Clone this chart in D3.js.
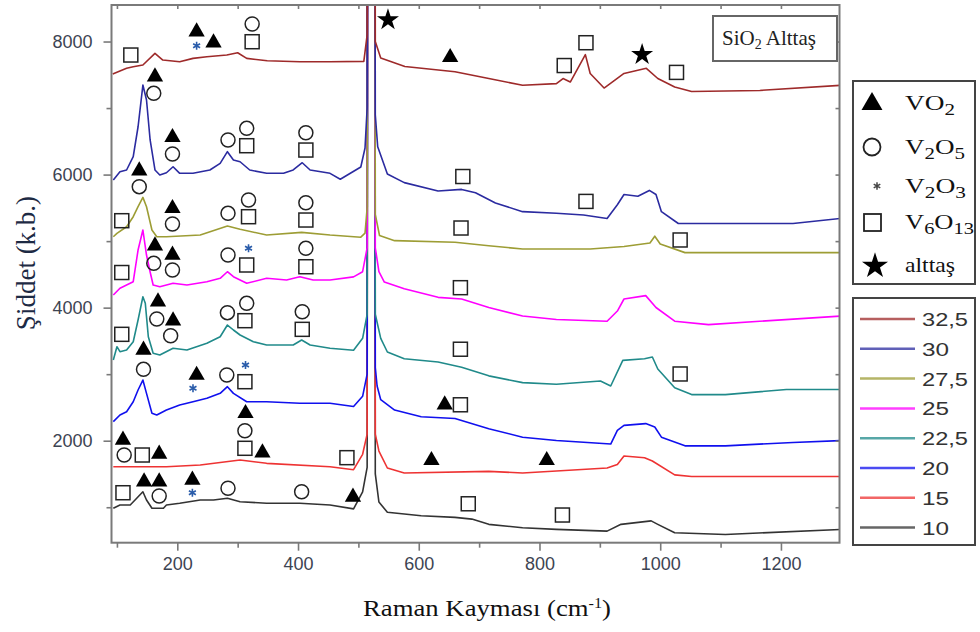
<!DOCTYPE html>
<html><head><meta charset="utf-8">
<script src="https://cdn.jsdelivr.net/npm/d3@7"></script>
<style>body{margin:0;background:#fff}</style></head>
<body><svg id="c" width="980" height="632"></svg>
<script>
// ---------- DATA ----------
const seriesNames = ["32,5","30","27,5","25","22,5","20","15","10"];
const seriesColors = ["#9e2a2a","#2b2ba0","#9d9d35","#ff00ff","#208a8a","#1010ee","#ee3333","#333333"];
const s325 = [[93,7511],[116,7597],[127,7621],[143,7647],[163,7823],[176,7722],[204,7696],[226,7747],[249,7771],[282,7797],[300,7832],[315,7747],[349,7711],[403,7696],[453,7696],[509,7701],[514.5,8100],[517,30000],[525,30000],[528,8000],[537,7752],[577,7624],[660,7546],[716,7444],[772,7342],[828,7367],[839,7444],[851,7391],[876,7803],[884,7520],[907,7301],[940,7520],[977,7597],[996,7444],[1024,7316],[1052,7248],[1165,7265],[1300,7342]];
const s30 = [[94,5918],[105,6043],[116,6069],[127,6269],[135,6719],[143,7346],[149,7121],[155,6520],[163,6069],[171,5993],[182,6028],[193,6118],[204,6019],[226,6019],[254,6069],[271,6169],[283,6344],[293,6219],[304,6193],[320,6069],[348,6019],[376,6019],[392,6069],[407,6178],[420,6069],[453,6019],[470,5930],[504,6114],[511,6400],[514.5,7000],[517,30000],[525,30000],[528,6900],[532,6417],[548,6009],[576,5879],[632,5753],[671,5777],[694,5726],[727,5573],[772,5443],[828,5418],[873,5392],[912,5341],[929,5546],[940,5700],[963,5675],[982,5762],[993,5700],[1002,5443],[1030,5265],[1108,5265],[1220,5265],[1300,5341]];
const s275 = [[94,5066],[100,5117],[116,5216],[127,5367],[135,5517],[143,5658],[149,5517],[158,5167],[166,5066],[182,5066],[238,5092],[283,5227],[304,5177],[348,5092],[406,5132],[453,5092],[504,5059],[511,5120],[514.5,5500],[517,30000],[525,30000],[528,5400],[535,5084],[560,5007],[660,4982],[716,4931],[772,4881],[884,4881],[940,4920],[983,4971],[991,5074],[1000,4956],[1041,4827],[1165,4827],[1300,4827]];
const s25 = [[94,4190],[105,4291],[127,4390],[135,4866],[143,5167],[149,4791],[155,4536],[160,4340],[171,4315],[193,4366],[216,4340],[249,4390],[271,4441],[283,4540],[293,4465],[315,4366],[348,4441],[381,4415],[403,4465],[425,4415],[453,4415],[492,4463],[507,4540],[514.5,4900],[517,30000],[525,30000],[528,4900],[534,4540],[543,4385],[576,4283],[632,4155],[671,4130],[716,4002],[772,3874],[828,3822],[912,3796],[929,3949],[940,4130],[976,4181],[993,4002],[1024,3796],[1080,3745],[1165,3796],[1300,3874]];
const s225 = [[94,3213],[100,3413],[105,3338],[116,3363],[127,3488],[135,3814],[143,4164],[147,4065],[152,3563],[160,3314],[171,3288],[193,3389],[216,3363],[249,3464],[271,3563],[283,3739],[293,3664],[304,3589],[326,3488],[348,3438],[392,3438],[406,3514],[420,3438],[453,3389],[492,3360],[507,3539],[514.5,3900],[517,30000],[525,30000],[528,3900],[537,3539],[548,3333],[576,3232],[632,3183],[671,3103],[716,2975],[772,2873],[828,2848],[901,2897],[918,2822],[938,3207],[974,3232],[987,3258],[996,3078],[1024,2797],[1052,2693],[1108,2693],[1209,2770],[1300,2770]];
const s20 = [[94,2286],[105,2386],[116,2436],[127,2586],[135,2762],[143,2912],[149,2712],[158,2412],[166,2386],[182,2461],[204,2537],[226,2586],[249,2637],[271,2712],[283,2812],[293,2712],[315,2586],[348,2586],[403,2562],[453,2562],[492,2514],[507,2667],[514.5,3000],[517,30000],[525,30000],[528,3100],[531,2822],[537,2616],[560,2461],[604,2359],[660,2334],[716,2180],[772,2053],[828,2002],[918,1950],[929,2155],[940,2231],[976,2257],[991,2206],[1002,2053],[1041,1923],[1108,1923],[1220,1974],[1300,2002]];
const s15 = [[94,1609],[182,1609],[238,1635],[304,1710],[348,1660],[453,1609],[492,1564],[507,1796],[514.5,2100],[517,30000],[525,30000],[528,2100],[534,1845],[548,1590],[576,1515],[716,1539],[772,1515],[912,1590],[929,1642],[940,1770],[974,1744],[987,1695],[1024,1487],[1052,1462],[1300,1462]];
const s10 = [[94,984],[105,1034],[122,1034],[130,1109],[143,1233],[149,1109],[158,984],[177,984],[182,1034],[204,1059],[238,1109],[260,1109],[283,1134],[304,1083],[348,1059],[403,1059],[453,1034],[492,975],[507,1232],[514.5,1600],[517,30000],[525,30000],[528,1500],[534,1079],[548,924],[604,873],[660,847],[688,822],[716,743],[772,692],[828,667],[912,641],[935,743],[985,795],[996,743],[1024,616],[1108,590],[1300,667]];
const seriesData = [s325,s30,s275,s25,s225,s20,s15,s10];

// phase marker positions (Raman shift, intensity)
const vo2Marks = [[232,8147],[260,7982],[652,7763],[163,7471],[192,6560],[137,6058],[192,5493],[163,4931],[192,4791],[168,4089],[193,3804],[144,3363],[232,2987],[643,2540],[110,2011],[170,1800],[313,2412],[341,1820],[621,1704],[812,1704],[145,1384],[170,1384],[225,1409],[491,1154]];
const v2o5Marks = [[324,8263],[161,7221],[192,6309],[284,6520],[315,6695],[413,6629],[137,5818],[192,5257],[284,5418],[318,5618],[413,5577],[161,4666],[192,4566],[284,4791],[413,4892],[166,3829],[189,3578],[283,3924],[315,4065],[407,3939],[144,3073],[282,2987],[112,1785],[312,2150],[170,1169],[284,1285],[406,1233]];
const v2o3Marks = [[232,7937],[318,4892],[226,2788],[313,3138],[225,1218]];
const v6o13Marks = [[123,7797],[324,7997],[841,7639],[877,7982],[1027,7536],[315,6434],[413,6369],[673,5971],[877,5597],[108,5307],[318,5367],[413,5317],[670,5197],[1033,5017],[108,4528],[315,4641],[413,4615],[669,4300],[108,3599],[312,3804],[407,3674],[669,3375],[1033,3003],[312,2887],[669,2540],[142,1785],[312,1886],[481,1745],[110,1218],[682,1052],[838,883]];
const substrateMarks = [[549,8326],[970,7803]];

const xMajorTicks = [200,400,600,800,1000,1200];
const xMinorTicks = [100,300,500,700,900,1100];
const yMajorTicks = [2000,4000,6000,8000];
const yMinorTicks = [1000,3000,5000,7000];
const xTitle = "Raman Kayması (cm";
const yTitle = "Şiddet (k.b.)";

// ---------- DRAW ----------
const svg = d3.select("#c");
const L=111.5, R=839.5, T=5, B=542.7;
const x = d3.scaleLinear().domain([91,1297]).range([L,R]);
const y = d3.scaleLinear().domain([467,8549]).range([B,T]);

svg.append("defs").append("clipPath").attr("id","clip")
  .append("rect").attr("x",L).attr("y",T).attr("width",R-L).attr("height",B-T);

const line = d3.line().x(d=>x(d[0])).y(d=>y(d[1]));
const gl = svg.append("g").attr("clip-path","url(#clip)");
seriesData.slice().reverse().forEach((s,i)=>{
  const k = seriesData.length-1-i;
  gl.append("path").datum(s).attr("d",line).attr("fill","none")
    .attr("stroke",seriesColors[k]).attr("stroke-width",1.6).attr("stroke-linejoin","round");
});

// frame + axes
const axisCol="#7a7a7a";
svg.append("rect").attr("x",L).attr("y",T).attr("width",R-L).attr("height",B-T)
  .attr("fill","none").attr("stroke",axisCol).attr("stroke-width",2);

const fmt = d3.format("d");
const gx = svg.append("g").attr("transform",`translate(0,${B})`)
  .call(d3.axisBottom(x).tickValues(xMajorTicks).tickSize(8).tickPadding(7).tickFormat(fmt));
const gxm = svg.append("g").attr("transform",`translate(0,${B})`)
  .call(d3.axisBottom(x).tickValues(xMinorTicks).tickSize(5).tickFormat(""));
const gxt = svg.append("g").attr("transform",`translate(0,${T})`)
  .call(d3.axisBottom(x).tickValues(xMajorTicks.concat(xMinorTicks)).tickSize(4).tickFormat(""));
const gy = svg.append("g").attr("transform",`translate(${L},0)`)
  .call(d3.axisLeft(y).tickValues(yMajorTicks).tickSize(8).tickPadding(11).tickFormat(fmt));
const gym = svg.append("g").attr("transform",`translate(${L},0)`)
  .call(d3.axisLeft(y).tickValues(yMinorTicks).tickSize(5).tickFormat(""));
const gyr = svg.append("g").attr("transform",`translate(${R},0)`)
  .call(d3.axisLeft(y).tickValues(yMajorTicks.concat(yMinorTicks)).tickSize(4).tickFormat(""));
[gx,gxm,gxt,gy,gym,gyr].forEach(g=>{
  g.select(".domain").remove();
  g.selectAll(".tick line").attr("stroke",axisCol).attr("stroke-width",1.6);
  g.selectAll(".tick text").attr("fill","#3d4452")
    .style("font-family","'Liberation Sans', Arial, sans-serif").style("font-size","18px");
});

// axis titles
const xt = svg.append("text").attr("x",487).attr("y",616).attr("text-anchor","middle")
  .attr("textLength",248).attr("lengthAdjust","spacingAndGlyphs")
  .style("font-family","'Liberation Serif','Times New Roman',serif").style("font-size","23px").attr("fill","#111");
xt.append("tspan").text(xTitle);
xt.append("tspan").text("-1").attr("dy",-8).style("font-size","14px");
xt.append("tspan").text(")").attr("dy",8);
svg.append("text").attr("transform","translate(35,263) rotate(-90)").attr("text-anchor","middle")
  .style("font-family","'Liberation Serif','Times New Roman',serif").style("font-size","27px")
  .attr("fill","#1d2a44").text(yTitle);

// markers
const gm = svg.append("g");
const sym = (type,size)=>d3.symbol().type(type).size(size)();
gm.selectAll(".tri").data(vo2Marks).join("path").attr("d",sym(d3.symbolTriangle,115))
  .attr("transform",d=>`translate(${x(d[0])},${y(d[1])})`).attr("fill","#000");
gm.selectAll(".cir").data(v2o5Marks).join("circle").attr("cx",d=>x(d[0])).attr("cy",d=>y(d[1]))
  .attr("r",7).attr("fill","none").attr("stroke","#222").attr("stroke-width",1.5);
gm.selectAll(".sq").data(v6o13Marks).join("rect").attr("x",d=>x(d[0])-7).attr("y",d=>y(d[1])-7)
  .attr("width",14).attr("height",14).attr("fill","none").attr("stroke","#222").attr("stroke-width",1.5);
gm.selectAll(".ast").data(v2o3Marks).join("path").attr("d",sym(d3.symbolAsterisk,45))
  .attr("transform",d=>`translate(${x(d[0])},${y(d[1])})`).attr("fill","none")
  .attr("stroke","#2a5caa").attr("stroke-width",1.6);
gm.selectAll(".star").data(substrateMarks).join("path").attr("d",sym(d3.symbolStar,150))
  .attr("transform",d=>`translate(${x(d[0])},${y(d[1])})`).attr("fill","#000");

// SiO2 label box
svg.append("rect").attr("x",713).attr("y",16).attr("width",124).attr("height",45)
  .attr("fill","#fff").attr("stroke","#666").attr("stroke-width",2);
const st = svg.append("text").attr("x",722).attr("y",45)
  .style("font-family","'Liberation Serif','Times New Roman',serif").style("font-size","21px").attr("fill","#222");
st.append("tspan").text("SiO");
st.append("tspan").text("2").attr("dy",4).style("font-size","14px");
st.append("tspan").text(" Alttaş").attr("dy",-4);

// phase legend
svg.append("rect").attr("x",853).attr("y",81).attr("width",122).attr("height",203)
  .attr("fill","#fff").attr("stroke","#444").attr("stroke-width",2);
const phaseLegend = [
  {parts:[["VO",0],["2",1]], y:103, len:50},
  {parts:[["V",0],["2",1],["O",0],["5",1]], y:147, len:60},
  {parts:[["V",0],["2",1],["O",0],["3",1]], y:186, len:61},
  {parts:[["V",0],["6",1],["O",0],["13",1]], y:222, len:69},
  {parts:[["alttaş",0]], y:265, len:50}
];
phaseLegend.forEach(p=>{
  const t = svg.append("text").attr("x",905).attr("y",p.y+7)
    .attr("textLength",p.len).attr("lengthAdjust","spacingAndGlyphs")
    .style("font-family","'Liberation Serif','Times New Roman',serif").style("font-size","22px").attr("fill","#111");
  let sub=false;
  p.parts.forEach(([s,isSub])=>{
    const ts=t.append("tspan").text(s);
    if(isSub && !sub){ts.attr("dy",5).style("font-size","17px");sub=true;}
    else if(isSub){ts.style("font-size","17px");}
    else if(!isSub && sub){ts.attr("dy",-5);sub=false;}
  });
});
const lg = svg.append("g");
lg.append("path").attr("d",sym(d3.symbolTriangle,190)).attr("transform","translate(872,104)").attr("fill","#000");
lg.append("circle").attr("cx",872).attr("cy",147).attr("r",8.5).attr("fill","none").attr("stroke","#222").attr("stroke-width",1.8);
lg.append("path").attr("d",sym(d3.symbolAsterisk,40)).attr("transform","translate(877,186)").attr("fill","none").attr("stroke","#444").attr("stroke-width",1.5);
lg.append("rect").attr("x",864).attr("y",214).attr("width",17).attr("height",17).attr("fill","none").attr("stroke","#222").attr("stroke-width",1.8);
lg.append("path").attr("d",sym(d3.symbolStar,210)).attr("transform","translate(875,266)").attr("fill","#000");

// series legend
svg.append("rect").attr("x",853).attr("y",298).attr("width",122).attr("height",247)
  .attr("fill","#fff").attr("stroke","#444").attr("stroke-width",2);
seriesNames.forEach((n,i)=>{
  const yy = 319 + i*29.8;
  svg.append("line").attr("x1",860).attr("x2",915).attr("y1",yy).attr("y2",yy)
    .attr("stroke",seriesColors[i]).attr("stroke-width",2.5).attr("opacity",0.75);
  svg.append("text").attr("x",922).attr("y",yy+7).text(n)
    .attr("textLength", n.length>2?46:27).attr("lengthAdjust","spacingAndGlyphs")
    .style("font-family","'Liberation Sans',Arial,sans-serif").style("font-size","19px").attr("fill","#333");
});
</script></body></html>
